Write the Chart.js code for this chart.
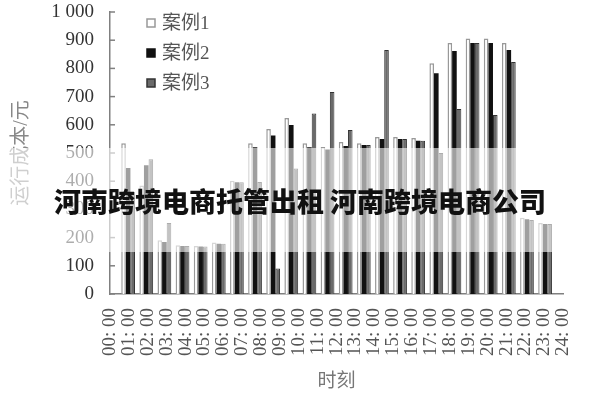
<!DOCTYPE html>
<html>
<head>
<meta charset="utf-8">
<script src="https://cdn.jsdelivr.net/npm/chart.js@4.4.0/dist/chart.umd.min.js"></script>
<style>
  html, body { margin: 0; padding: 0; background: #fff; }
  #wrap { position: relative; width: 600px; height: 400px; }
  #band {
    position: absolute; left: 0; top: 148px; width: 600px; height: 104px;
    background: rgba(255, 255, 255, 0.6);
    display: flex; align-items: center; justify-content: center;
    font-family: 'Noto Sans CJK SC', sans-serif; font-weight: 900; font-size: 27px;
    color: #111; white-space: pre;
  }
</style>
</head>
<body>
<div id="wrap">
  <canvas id="myChart" width="600" height="400"></canvas>
  <div id="band">河南跨境电商托管出租 河南跨境电商公司</div>
</div>
<script>
// Tick labels
const hourLabels = ['00: 00', '01: 00', '02: 00', '03: 00', '04: 00', '05: 00', '06: 00', '07: 00',
  '08: 00', '09: 00', '10: 00', '11: 00', '12: 00', '13: 00', '14: 00', '15: 00', '16: 00',
  '17: 00', '18: 00', '19: 00', '20: 00', '21: 00', '22: 00', '23: 00', '24: 00'];
const costLabels = ['0', '100', '200', '300', '400', '500', '600', '700', '800', '900', '1 000'];

// Series names and values (one value per hour slot, 24 slots)
const seriesNames = ['案例1', '案例2', '案例3'];
const case1 = [535, 385, 191, 173, 170, 183, 402, 535, 585, 624, 535, 521,
               539, 535, 557, 557, 553, 818, 890, 906, 906, 890, 270, 252];
const case2 = [447, 457, 184, 170, 168, 178, 396, 520, 562, 599, 520, 512,
               525, 528, 550, 550, 543, 783, 862, 890, 890, 865, 265, 248];
const case3 = [362, 478, 252, 170, 168, 178, 396, 397, 90, 445, 640, 716,
               582, 528, 865, 550, 543, 500, 656, 890, 635, 823, 262, 248];

const serif = '"Liberation Serif", "Noto Sans CJK SC", serif';

// each hour's bars sit in the middle of its slot on the linear axis
let toPoints = (arr) => arr.map((v, i) => ({ x: i + 0.5, y: v }));

// small tick marks drawn inward from the y axis
const innerTicks = {
  id: 'innerTicks',
  afterDraw(chart) {
    const y = chart.scales.y;
    const ctx = chart.ctx;
    ctx.save();
    ctx.strokeStyle = '#808080';
    ctx.lineWidth = 1.5;
    y.ticks.forEach((t, i) => {
      const py = y.getPixelForTick(i);
      ctx.beginPath();
      ctx.moveTo(y.right, py);
      ctx.lineTo(y.right + 5, py);
      ctx.stroke();
    });
    ctx.restore();
  }
};

// vertical legend in the top-left of the plot
const boxLegend = {
  id: 'boxLegend',
  afterDraw(chart) {
    const { ctx, chartArea } = chart;
    ctx.save();
    ctx.font = '19px ' + serif;
    ctx.textBaseline = 'middle';
    chart.data.datasets.forEach((ds, i) => {
      const x = chartArea.left + 37;
      const y = chartArea.top + 11 + i * 30;
      ctx.fillStyle = ds.backgroundColor;
      ctx.fillRect(x, y - 4, 8, 8);
      ctx.strokeStyle = ds.borderColor;
      ctx.lineWidth = 1.5;
      ctx.strokeRect(x, y - 4, 8, 8);
      ctx.fillStyle = '#555';
      ctx.fillText(ds.label, x + 15, y + 1);
    });
    ctx.restore();
  }
};

var context = document.getElementById('myChart').getContext('2d');
var myChart = new Chart(context, {
  type: 'bar',
  data: {
    datasets: [
      { label: seriesNames[0], data: toPoints(case1), backgroundColor: '#ffffff', borderColor: '#999999', borderWidth: 1.5 },
      { label: seriesNames[1], data: toPoints(case2), backgroundColor: '#111111', borderColor: '#111111', borderWidth: 0 },
      { label: seriesNames[2], data: toPoints(case3), backgroundColor: '#6a6a6a', borderColor: '#333333', borderWidth: 1 }
    ]
  },
  options: {
    responsive: false,
    animation: false,
    devicePixelRatio: 1,
    layout: { padding: { top: 0, right: 25, left: 0, bottom: 0 } },
    datasets: { bar: { barPercentage: 1, categoryPercentage: 0.76 } },
    plugins: { legend: { display: false }, tooltip: { enabled: false } },
    scales: {
      x: {
        type: 'linear', min: -0.5, max: 24.5, display: false, offset: false,
        ticks: { stepSize: 1 }
      },
      hours: {
        type: 'category', axis: 'x', position: 'bottom', labels: hourLabels, offset: false,
        grid: { display: false, drawTicks: false },
        border: { display: true, color: '#808080', width: 1.5 },
        ticks: {
          autoSkip: false, minRotation: 90, maxRotation: 90, padding: 14,
          color: '#555', font: { family: serif, size: 19 }
        },
        title: {
          display: true, text: '时刻', color: '#777',
          font: { family: serif, size: 19 }, padding: { top: 4, bottom: 7 }
        },
        afterFit: (s) => { s.height = 106; }
      },
      y: {
        min: 0, max: 1000,
        grid: { display: false, drawTicks: false },
        border: { display: true, color: '#808080', width: 1.5 },
        ticks: {
          stepSize: 100, padding: 16, color: '#333',
          font: { family: serif, size: 19 },
          callback: (v, i) => costLabels[i]
        },
        title: {
          display: true, text: '运行成本/元', color: '#888',
          font: { family: serif, size: 20 }, padding: { top: 10, bottom: 0 }
        },
        afterFit: (s) => { s.width = 110; s.paddingTop = 12; }
      }
    }
  },
  plugins: [innerTicks, boxLegend]
});
</script>
</body>
</html>
